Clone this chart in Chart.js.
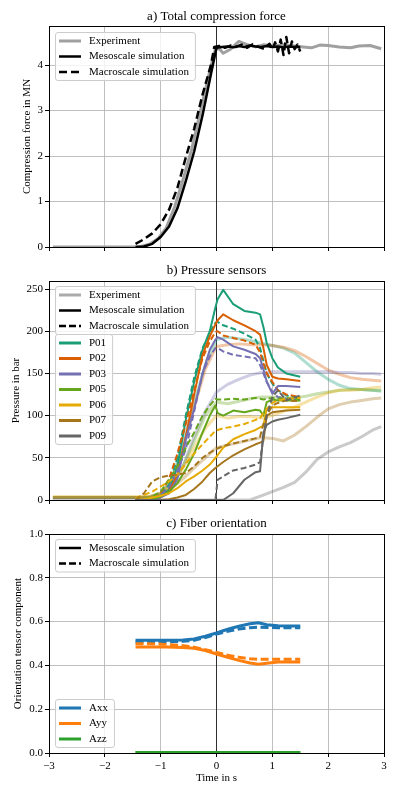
<!DOCTYPE html>
<html>
<head>
<meta charset="utf-8">
<script src="https://cdn.jsdelivr.net/npm/chart.js@4.4.1/dist/chart.umd.min.js"></script>
<style>
  html, body { margin: 0; padding: 0; background: #fff; }
  #page { position: relative; width: 399px; height: 797px; }
  #page canvas { position: absolute; left: 0; }
</style>
</head>
<body>
<div id="page">
  <canvas id="forceChart" width="399" height="262" style="top:0"></canvas>
  <canvas id="pressureChart" width="399" height="250" style="top:262px"></canvas>
  <canvas id="fiberChart" width="399" height="285" style="top:512px"></canvas>
</div>
<script>
// Tick values
const timeTicks = [-3, -2, -1, 0, 1, 2, 3];
const forceTicks = [0, 1, 2, 3, 4];
const pressureTicks = [0, 50, 100, 150, 200, 250];
const orientTicks = [0, 0.2, 0.4, 0.6, 0.8, 1.0];
const zeroTime = 0;

// a) Total compression force (MN)
const forceExpTime = [-2.93, -1.5, -1.35, -1.2, -1.05, -0.9, -0.75, -0.6, -0.45, -0.3, -0.15, -0.02, 0.05, 0.12, 0.25, 0.4, 0.55, 0.7, 0.85, 1.0, 1.2, 1.4, 1.55, 1.7, 1.85, 2.0, 2.2, 2.4, 2.55, 2.75, 2.95];
const forceExp = [0, 0, 0.01, 0.06, 0.18, 0.42, 0.88, 1.48, 2.12, 2.92, 3.72, 4.35, 4.36, 4.26, 4.35, 4.52, 4.45, 4.4, 4.45, 4.42, 4.45, 4.42, 4.4, 4.38, 4.44, 4.43, 4.4, 4.38, 4.42, 4.43, 4.36];
const forceMesoTime = [-1.45, -1.3, -1.15, -1.0, -0.85, -0.7, -0.55, -0.4, -0.25, -0.1, 0.0, 0.1, 0.2, 0.3, 0.4, 0.5, 0.6, 0.7, 0.8, 0.9, 1.0, 1.1, 1.2, 1.3, 1.4, 1.5];
const forceMeso = [0, 0.01, 0.07, 0.22, 0.45, 0.85, 1.45, 2.1, 2.9, 3.8, 4.38, 4.4, 4.41, 4.39, 4.42, 4.4, 4.43, 4.41, 4.4, 4.42, 4.4, 4.41, 4.39, 4.41, 4.4, 4.4];
const forceMacroTime = [-1.45, -1.3, -1.15, -1.0, -0.85, -0.7, -0.55, -0.4, -0.25, -0.1, -0.04, 0.05, 0.15, 0.25, 0.35, 0.45, 0.55, 0.65, 0.75, 0.85, 0.95, 1.0, 1.05, 1.1, 1.15, 1.2, 1.25, 1.3, 1.35, 1.4, 1.45, 1.5];
const forceMacro = [0.07, 0.17, 0.3, 0.5, 0.82, 1.3, 1.97, 2.6, 3.35, 4.0, 4.4, 4.42, 4.38, 4.43, 4.4, 4.45, 4.38, 4.46, 4.4, 4.36, 4.47, 4.34, 4.5, 4.3, 4.56, 4.22, 4.62, 4.26, 4.52, 4.35, 4.45, 4.3];

// b) Pressure sensors (bar)
const sensorNames = ["P01", "P02", "P03", "P05", "P06", "P07", "P09"];
const sensorColors = ["#1b9e77", "#d95f02", "#7570b3", "#66a61e", "#e6ab02", "#a6761d", "#666666"];

const simTime = [-1.45, -1.3, -1.15, -1.0, -0.85, -0.7, -0.55, -0.4, -0.25, -0.12, -0.02, 0.02, 0.12, 0.3, 0.5, 0.7, 0.78, 0.84, 0.9, 1.0, 1.1, 1.25, 1.5];
const p01Meso = [0, 0, 1, 4, 12, 40, 95, 140, 178, 200, 228, 238, 249, 232, 224, 222, 220, 205, 186, 168, 157, 150, 146];
const p01Macro = [0, 0, 2, 6, 18, 50, 100, 145, 180, 198, 210, 211, 207, 203, 197, 190, 180, 165, 150, 138, 130, 124, 120];
const p02Meso = [0, 0, 1, 3, 10, 30, 75, 125, 172, 194, 208, 213, 220, 213, 207, 200, 196, 180, 160, 146, 144, 143, 141];
const p02Macro = [0, 0, 2, 8, 25, 55, 90, 130, 168, 188, 199, 200, 195, 192, 189, 184, 175, 162, 150, 140, 130, 125, 122];
const p03Meso = [0, 0, 1, 3, 8, 25, 72, 108, 150, 178, 190, 193, 190, 182, 178, 173, 168, 155, 140, 126, 135, 135, 134];
const p03Macro = [0, 0, 2, 6, 15, 35, 60, 105, 150, 170, 180, 180, 176, 172, 170, 168, 160, 150, 140, 128, 122, 120, 118];
const p05Meso = [0, 0, 1, 4, 10, 20, 36, 55, 80, 100, 112, 103, 100, 106, 104, 107, 106, 100, 116, 119, 118, 118, 118];
const p05Macro = [0, 1, 4, 10, 24, 40, 62, 80, 100, 112, 120, 119, 119, 120, 119, 121, 120, 119, 120, 121, 120, 121, 119];
const p06Meso = [0, 1, 3, 5, 8, 14, 22, 28, 35, 42, 50, 53, 62, 72, 78, 83, 86, 88, 108, 110, 110, 110, 110];
const p06Macro = [2, 6, 10, 16, 22, 30, 43, 55, 66, 75, 82, 83, 85, 87, 90, 95, 97, 103, 108, 115, 118, 120, 121];
const p07Meso = [0, 0, 0, 0, 1, 3, 6, 13, 22, 32, 38, 40, 45, 53, 60, 66, 68, 70, 100, 104, 105, 106, 107];
const p07Macro = [0, 8, 22, 27, 29, 30, 32, 40, 50, 56, 60, 61, 64, 67, 70, 73, 75, 90, 100, 112, 115, 118, 117];
const p09Meso = [0, 0, 0, 0, 0, 0, 0, 0, 0, 0, 0, 0, 0, 8, 24, 33, 34, 80, 89, 93, 95, 97, 101];
const p09Macro = [0, 0, 0, 0, 0, 0, 0, 0, 0, 0, 0, 24, 28, 35, 38, 42, 45, 75, 100, 122, 130, 118, 124];

const expTime = [-2.93, -1.4, -1.2, -1.0, -0.8, -0.6, -0.4, -0.2, 0, 0.2, 0.4, 0.6, 0.8, 1.0, 1.2, 1.4, 1.6, 1.8, 2.0, 2.2, 2.4, 2.6, 2.8, 2.95];
const p01Exp = [3, 3, 4, 8, 25, 65, 115, 160, 190, 193, 191, 189, 186, 183, 180, 174, 163, 152, 143, 136, 132, 131, 130, 129];
const p02Exp = [3, 3, 4, 8, 22, 60, 110, 155, 182, 184, 185, 184, 184, 183, 181, 177, 170, 162, 154, 149, 145, 143, 142, 141];
const p03Exp = [3, 3, 3, 6, 15, 40, 75, 105, 128, 137, 143, 148, 151, 152, 152, 152, 152, 152, 152, 151, 151, 150, 150, 149];
const p05Exp = [3, 3, 3, 6, 18, 40, 70, 100, 116, 114, 117, 120, 122, 122, 121, 121, 123, 126, 128, 130, 131, 131, 130, 130];
const p06Exp = [4, 4, 4, 7, 18, 38, 62, 85, 100, 97, 99, 99, 97, 100, 105, 110, 116, 122, 127, 130, 130, 131, 133, 134];
const p07Exp = [3, 3, 3, 6, 14, 25, 38, 50, 62, 65, 68, 71, 74, 73, 70, 77, 87, 98, 108, 113, 116, 118, 120, 121];
const p09Exp = [0, 0, 0, 0, 0, 0, 0, 0, 0, 0, 0, 0, 5, 10, 15, 21, 33, 48, 57, 63, 68, 75, 83, 87];

// c) Fiber orientation
const fiberTime = [-1.45, -1.2, -0.9, -0.6, -0.4, -0.2, 0, 0.2, 0.4, 0.6, 0.75, 0.9, 1.1, 1.3, 1.5];
const axxMeso = [0.515, 0.515, 0.515, 0.516, 0.521, 0.533, 0.548, 0.565, 0.579, 0.590, 0.595, 0.586, 0.581, 0.580, 0.580];
const axxMacro = [0.507, 0.507, 0.508, 0.510, 0.515, 0.527, 0.543, 0.556, 0.566, 0.572, 0.574, 0.573, 0.572, 0.572, 0.572];
const ayyMeso = [0.484, 0.484, 0.484, 0.482, 0.478, 0.468, 0.452, 0.437, 0.423, 0.411, 0.405, 0.410, 0.415, 0.416, 0.416];
const ayyMacro = [0.499, 0.499, 0.496, 0.490, 0.483, 0.472, 0.459, 0.447, 0.437, 0.430, 0.428, 0.428, 0.428, 0.428, 0.428];
const azzMeso = [0.002, 0.002, 0.002, 0.002, 0.002, 0.002, 0.002, 0.002, 0.002, 0.002, 0.002, 0.002, 0.002, 0.002, 0.002];
const azzMacro = [0.002, 0.002, 0.002, 0.002, 0.002, 0.002, 0.002, 0.002, 0.002, 0.002, 0.002, 0.002, 0.002, 0.002, 0.002];
const componentNames = ["Axx", "Ayy", "Azz"];
const componentColors = ["#1f77b4", "#ff7f0e", "#2ca02c"];

// Shared style
const serif = '"Liberation Serif", "Times New Roman", serif';
Chart.defaults.font.family = serif;
Chart.defaults.font.size = 11;
Chart.defaults.color = "#000";
Chart.defaults.animation = false;
const gridColor = "rgba(176,176,176,0.8)";

function fade(hex, a) {
  const n = parseInt(hex.slice(1), 16);
  return `rgba(${n >> 16},${(n >> 8) & 255},${n & 255},${a})`;
}

function line(t, v, color, width, dash) {
  return {
    data: t.map((x, i) => ({ x: x, y: v[i] })),
    borderColor: color,
    borderWidth: width,
    borderDash: dash || [],
    borderCapStyle: "butt",
    borderJoinStyle: "round",
    pointRadius: 0,
    pointHoverRadius: 0,
    tension: 0,
    fill: false
  };
}

const fixTicks = values => scale => { scale.ticks = values.map(v => ({ value: v })); };
const minusFmt = v => (v < 0 ? "\u2212" + Math.abs(v) : String(v));

function timeAxis(height, labelled) {
  return {
    type: "linear", min: -3, max: 3,
    afterBuildTicks: fixTicks(timeTicks),
    afterFit: s => { s.height = height; },
    grid: { color: gridColor, tickColor: "#000", tickLength: 4 },
    border: { display: false },
    ticks: { display: labelled, padding: 3, callback: minusFmt },
    title: { display: labelled, text: "Time in s", padding: { top: 0, bottom: 12.4 } }
  };
}

function valueAxis(max, ticks, label, titleX, fmt) {
  return {
    type: "linear", min: 0, max: max,
    afterBuildTicks: fixTicks(ticks),
    afterFit: s => { s.width = 49; },
    grid: { color: gridColor, tickColor: "#000", tickLength: 4 },
    border: { display: false },
    ticks: { padding: 2, callback: fmt || (v => String(v)) },
    title: { display: true, text: label, padding: { top: titleX - 6.6, bottom: 0 } }
  };
}

// zero line under the data, full box frame over it
const frame = {
  id: "frame",
  beforeDatasetsDraw(chart) {
    const { ctx, chartArea: a } = chart;
    const px = Math.round(chart.scales.x.getPixelForValue(zeroTime) - 0.5) + 0.5;
    ctx.save();
    ctx.strokeStyle = "rgba(0,0,0,0.75)";
    ctx.lineWidth = 1;
    ctx.beginPath();
    ctx.moveTo(px, a.top);
    ctx.lineTo(px, a.bottom);
    ctx.stroke();
    ctx.restore();
  },
  afterDatasetsDraw(chart) {
    const { ctx, chartArea: a } = chart;
    const l = Math.round(a.left - 0.5) + 0.5, t = Math.round(a.top - 0.5) + 0.5;
    const r = Math.round(a.right - 0.5) + 0.5, b = Math.round(a.bottom - 0.5) + 0.5;
    ctx.save();
    ctx.strokeStyle = "#000";
    ctx.lineWidth = 1;
    ctx.strokeRect(l, t, r - l, b - t);
    ctx.restore();
  }
};

// matplotlib-like legend boxes inside the axes
const legendBoxes = {
  id: "legendBoxes",
  afterDatasetsDraw(chart, args, opts) {
    const { ctx, chartArea: a } = chart;
    const rowH = 15.5;
    ctx.save();
    ctx.font = "11px " + serif;
    for (const box of opts.boxes || []) {
      const w = Math.max(...box.items.map(it => ctx.measureText(it.label).width)) + 40;
      const h = 17 + (box.items.length - 1) * rowH;
      const x = a.left + 6;
      const y = box.bottom !== undefined ? a.bottom - box.bottom - h : a.top + box.top;
      ctx.beginPath();
      if (ctx.roundRect) ctx.roundRect(x + 0.5, y + 0.5, w, h, 2.5); else ctx.rect(x + 0.5, y + 0.5, w, h);
      ctx.fillStyle = "rgba(255,255,255,0.8)";
      ctx.fill();
      ctx.strokeStyle = "#cccccc";
      ctx.lineWidth = 1;
      ctx.stroke();
      box.items.forEach((it, i) => {
        const ry = y + 9 + i * rowH;
        ctx.beginPath();
        ctx.setLineDash(it.dash || []);
        ctx.strokeStyle = it.color;
        ctx.lineWidth = it.width;
        ctx.lineCap = "butt";
        ctx.moveTo(x + 4, ry);
        ctx.lineTo(x + 26, ry);
        ctx.stroke();
        ctx.setLineDash([]);
        ctx.fillStyle = "#000";
        ctx.textBaseline = "middle";
        ctx.textAlign = "left";
        ctx.fillText(it.label, x + 34, ry);
      });
    }
    ctx.restore();
  }
};

function makeChart(id, title, titlePad, xAxis, yAxis, datasets, boxes) {
  return new Chart(document.getElementById(id), {
    type: "line",
    data: { datasets: datasets.slice().reverse() },
    options: {
      responsive: false,
      animation: false,
      events: [],
      layout: { padding: { left: 0, right: 15, top: 0, bottom: 0 } },
      scales: { x: xAxis, y: yAxis },
      plugins: {
        legend: { display: false },
        tooltip: { enabled: false },
        title: { display: true, fullSize: false, text: title, font: { size: 13, weight: "normal" }, padding: titlePad },
        legendBoxes: { boxes: boxes }
      }
    },
    plugins: [frame, legendBoxes]
  });
}

// Panel a
makeChart("forceChart", "a) Total compression force", { top: 9.2, bottom: 1.2 },
  timeAxis(15, false),
  valueAxis(4.86, forceTicks, "Compression force in MN", 27),
  [
    line(forceExpTime, forceExp, "#a0a0a0", 3),
    line(forceMesoTime, forceMeso, "#000", 2.5),
    line(forceMacroTime, forceMacro, "#000", 2.5, [8, 4])
  ],
  [{ top: 6, items: [
    { label: "Experiment", color: "#a0a0a0", width: 3 },
    { label: "Mesoscale simulation", color: "#000", width: 2.5 },
    { label: "Macroscale simulation", color: "#000", width: 2.5, dash: [8, 4] }
  ] }]
);

// Panel b
const expSeries = [p01Exp, p02Exp, p03Exp, p05Exp, p06Exp, p07Exp, p09Exp];
const mesoSeries = [p01Meso, p02Meso, p03Meso, p05Meso, p06Meso, p07Meso, p09Meso];
const macroSeries = [p01Macro, p02Macro, p03Macro, p05Macro, p06Macro, p07Macro, p09Macro];
const pressureSets = [];
expSeries.forEach((v, i) => pressureSets.push(line(expTime, v, fade(sensorColors[i], 0.35), 3)));
sensorNames.forEach((n, i) => {
  pressureSets.push(line(simTime, mesoSeries[i], sensorColors[i], 2));
  pressureSets.push(line(simTime, macroSeries[i], sensorColors[i], 2, [6, 3]));
});

makeChart("pressureChart", "b) Pressure sensors", { top: 1.2, bottom: 2.2 },
  timeAxis(12, false),
  valueAxis(259.5, pressureTicks, "Pressure in bar", 16),
  pressureSets,
  [
    { top: 5, items: [
      { label: "Experiment", color: "#aaaaaa", width: 3 },
      { label: "Mesoscale simulation", color: "#000", width: 2.5 },
      { label: "Macroscale simulation", color: "#000", width: 2.5, dash: [7, 3] }
    ] },
    { top: 53, items: sensorNames.map((n, i) => ({ label: n, color: sensorColors[i], width: 3 })) }
  ]
);

// Panel c
const fiberMeso = [axxMeso, ayyMeso, azzMeso];
const fiberMacro = [axxMacro, ayyMacro, azzMacro];
const fiberSets = [];
componentNames.forEach((n, i) => {
  fiberSets.push(line(fiberTime, fiberMeso[i], componentColors[i], 3));
  fiberSets.push(line(fiberTime, fiberMacro[i], componentColors[i], 3, [8, 3.5]));
});

makeChart("fiberChart", "c) Fiber orientation", { top: 4.2, bottom: 2.2 },
  timeAxis(44, true),
  valueAxis(1.0, orientTicks, "Orientation tensor component", 18, v => v.toFixed(1)),
  fiberSets,
  [
    { top: 5, items: [
      { label: "Mesoscale simulation", color: "#000", width: 2.5 },
      { label: "Macroscale simulation", color: "#000", width: 2.5, dash: [7, 3] }
    ] },
    { bottom: 6, items: componentNames.map((n, i) => ({ label: n, color: componentColors[i], width: 3 })) }
  ]
);
</script>
</body>
</html>
